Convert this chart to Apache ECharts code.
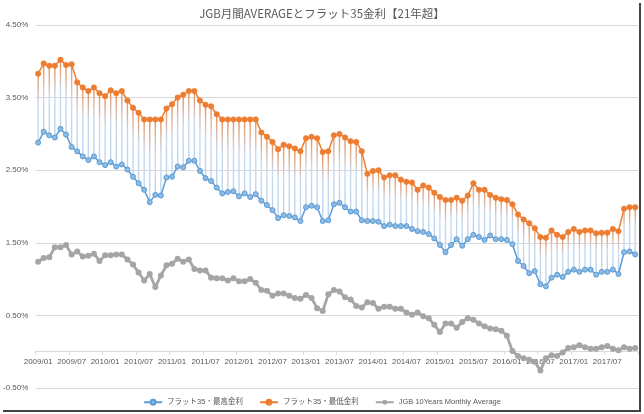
<!DOCTYPE html>
<html>
<head>
<meta charset="utf-8">
<script src="https://cdn.jsdelivr.net/npm/echarts@6/dist/echarts.min.js"></script>
<style>
  html, body { margin: 0; padding: 0; background: #fff; }
  #main { width: 644px; height: 414px; }
</style>
</head>
<body>
<div id="main"></div>
<script>
// months 2009/01 .. 2017/12
var years = [2009, 2010, 2011, 2012, 2013, 2014, 2015, 2016, 2017];
var months = ['01', '02', '03', '04', '05', '06', '07', '08', '09', '10', '11', '12'];
var categories = [];
years.forEach(function (y) {
    months.forEach(function (m) { categories.push(y + '/' + m); });
});

// フラット35・最高金利 (blue)
var flatHigh = [
    2.88, 3.03, 2.98, 2.95, 3.07, 2.99, 2.82, 2.76, 2.69, 2.64,
    2.69, 2.61, 2.57, 2.61, 2.55, 2.58, 2.51, 2.41, 2.32, 2.23,
    2.06, 2.16, 2.15, 2.40, 2.41, 2.55, 2.54, 2.63, 2.63, 2.49,
    2.39, 2.35, 2.26, 2.18, 2.20, 2.21, 2.14, 2.18, 2.13, 2.17,
    2.08, 2.02, 1.95, 1.84, 1.88, 1.87, 1.85, 1.80, 1.99, 2.01,
    1.99, 1.80, 1.81, 2.03, 2.05, 1.99, 1.93, 1.93, 1.81, 1.80,
    1.80, 1.79, 1.73, 1.75, 1.73, 1.73, 1.73, 1.69, 1.66, 1.65,
    1.62, 1.56, 1.47, 1.37, 1.47, 1.55, 1.46, 1.55, 1.61, 1.58,
    1.54, 1.60, 1.55, 1.55, 1.54, 1.48, 1.25, 1.18, 1.08, 1.11,
    0.93, 0.90, 1.02, 1.06, 1.03, 1.10, 1.13, 1.10, 1.13, 1.13,
    1.06, 1.10, 1.10, 1.13, 1.07, 1.37, 1.38, 1.34
];

// フラット35・最低金利 (orange)
var flatLow = [
    3.83, 3.97, 3.94, 3.94, 4.02, 3.95, 3.96, 3.71, 3.64, 3.59,
    3.64, 3.56, 3.52, 3.60, 3.56, 3.59, 3.46, 3.36, 3.29, 3.20,
    3.20, 3.20, 3.20, 3.35, 3.41, 3.50, 3.54, 3.59, 3.59, 3.46,
    3.40, 3.38, 3.27, 3.20, 3.20, 3.20, 3.20, 3.20, 3.20, 3.20,
    3.02, 2.96, 2.89, 2.79, 2.85, 2.83, 2.80, 2.76, 2.94, 2.96,
    2.94, 2.75, 2.76, 2.98, 3.00, 2.95, 2.90, 2.89, 2.76, 2.45,
    2.49, 2.50, 2.40, 2.43, 2.43, 2.37, 2.34, 2.33, 2.23, 2.29,
    2.26, 2.19, 2.13, 2.09, 2.09, 2.12, 2.08, 2.15, 2.32, 2.23,
    2.23, 2.16, 2.12, 2.10, 2.09, 2.03, 1.89, 1.82, 1.77, 1.70,
    1.58, 1.57, 1.67, 1.61, 1.58, 1.65, 1.69, 1.65, 1.67, 1.67,
    1.63, 1.64, 1.64, 1.69, 1.66, 1.97, 1.99, 1.99
];

// JGB 10Years Monthly Average (grey)
var jgb10y = [
    1.24, 1.29, 1.30, 1.44, 1.44, 1.47, 1.34, 1.38, 1.31, 1.32,
    1.35, 1.25, 1.33, 1.33, 1.34, 1.34, 1.27, 1.20, 1.09, 0.98,
    1.07, 0.89, 1.05, 1.19, 1.21, 1.28, 1.24, 1.27, 1.14, 1.12,
    1.12, 1.02, 1.01, 1.01, 0.98, 1.01, 0.97, 0.97, 1.00, 0.95,
    0.85, 0.84, 0.77, 0.80, 0.80, 0.77, 0.74, 0.73, 0.78, 0.74,
    0.60, 0.56, 0.79, 0.85, 0.83, 0.75, 0.72, 0.63, 0.61, 0.68,
    0.67, 0.59, 0.62, 0.62, 0.59, 0.59, 0.54, 0.51, 0.54, 0.49,
    0.46, 0.37, 0.27, 0.39, 0.39, 0.33, 0.41, 0.46, 0.44, 0.39,
    0.35, 0.32, 0.31, 0.29, 0.22, 0.01, -0.06, -0.09, -0.11, -0.14,
    -0.26, -0.09, -0.05, -0.06, -0.01, 0.05, 0.06, 0.09, 0.06, 0.04,
    0.04, 0.06, 0.08, 0.04, 0.02, 0.06, 0.04, 0.05
];

var seriesNames = ['フラット35・最高金利', 'フラット35・最低金利', 'JGB 10Years Monthly Average'];

var latin = "'Liberation Sans', 'Noto Sans CJK JP', sans-serif";

var spanData = categories.map(function (c, i) {
    return [i, flatHigh[i], flatLow[i]];
});

var myChart = echarts.init(document.getElementById('main'));
var option = {
    animation: false,
    backgroundColor: '#fff',
    title: {
        text: 'JGB月間AVERAGEとフラット35金利【21年超】',
        left: 'center',
        top: 3,
        textStyle: {
            fontFamily: "'Noto Sans CJK JP', sans-serif",
            fontSize: 11.5,
            fontWeight: 'normal',
            color: '#595959'
        }
    },
    legend: {
        data: seriesNames,
        bottom: 3,
        left: 'center',
        itemWidth: 18,
        itemHeight: 6,
        itemGap: 16,
        textStyle: { fontFamily: latin, fontSize: 7.5, color: '#595959' }
    },
    grid: {
        left: 31,
        right: 6,
        top: 25,
        bottom: 26,
        containLabel: false
    },
    xAxis: {
        type: 'category',
        data: categories,
        boundaryGap: true,
        // the zero line sits 36 px above the bottom of the grid
        offset: -36.3,
        axisLine: { onZero: false, lineStyle: { color: '#D9D9D9', width: 1 } },
        axisTick: { show: true, interval: 5, length: 3, alignWithLabel: false, lineStyle: { color: '#D9D9D9' } },
        axisLabel: { interval: 5, fontFamily: latin, fontSize: 8, color: '#595959', margin: 6, hideOverlap: false },
        splitLine: { show: false }
    },
    yAxis: {
        type: 'value',
        min: -0.5,
        max: 4.5,
        interval: 1,
        axisLine: { show: false },
        axisTick: { show: false },
        axisLabel: {
            fontFamily: latin,
            fontSize: 8,
            color: '#595959',
            margin: 7,
            formatter: function (v) { return v.toFixed(2) + '%'; }
        },
        splitLine: { lineStyle: { color: '#D9D9D9', width: 1 } }
    },
    series: [
        {
            type: 'custom',
            name: 'span',
            data: spanData,
            encode: { x: 0, y: [1, 2] },
            silent: true,
            z: 1,
            renderItem: function (params, api) {
                var top = api.coord([api.value(0), api.value(2)]);
                var bottom = api.coord([api.value(0), api.value(1)]);
                return {
                    type: 'line',
                    shape: { x1: top[0], y1: top[1], x2: bottom[0], y2: bottom[1] },
                    style: {
                        stroke: new echarts.graphic.LinearGradient(top[0], top[1], bottom[0], bottom[1], [
                            { offset: 0, color: '#EE8C4E' },
                            { offset: 0.45, color: '#C6DBF0' },
                            { offset: 1, color: '#BBD5EE' }
                        ], true),
                        lineWidth: 1.4
                    }
                };
            }
        },
        {
            name: seriesNames[0],
            type: 'line',
            data: flatHigh,
            z: 3,
            symbol: 'circle',
            symbolSize: 5,
            showAllSymbol: true,
            lineStyle: { color: '#5B9BD5', width: 1.5 },
            itemStyle: { color: '#8DBBE4', borderColor: '#5B9BD5', borderWidth: 1 }
        },
        {
            name: seriesNames[1],
            type: 'line',
            data: flatLow,
            z: 3,
            symbol: 'circle',
            symbolSize: 5.5,
            showAllSymbol: true,
            lineStyle: { color: '#ED7D31', width: 1.5 },
            itemStyle: { color: '#ED7D31', borderColor: '#ED7D31', borderWidth: 0.5 }
        },
        {
            name: seriesNames[2],
            type: 'line',
            data: jgb10y,
            z: 3,
            symbol: 'circle',
            symbolSize: 6,
            showAllSymbol: true,
            lineStyle: { color: '#A5A5A5', width: 2.8 },
            itemStyle: { color: '#A5A5A5' }
        }
    ],
    graphic: [
        { type: 'rect', shape: { x: 639, y: 3, width: 2, height: 409 }, style: { fill: '#444' }, silent: true },
        { type: 'rect', shape: { x: 3, y: 410, width: 638, height: 2 }, style: { fill: '#444' }, silent: true }
    ]
};
myChart.setOption(option);
</script>
</body>
</html>
